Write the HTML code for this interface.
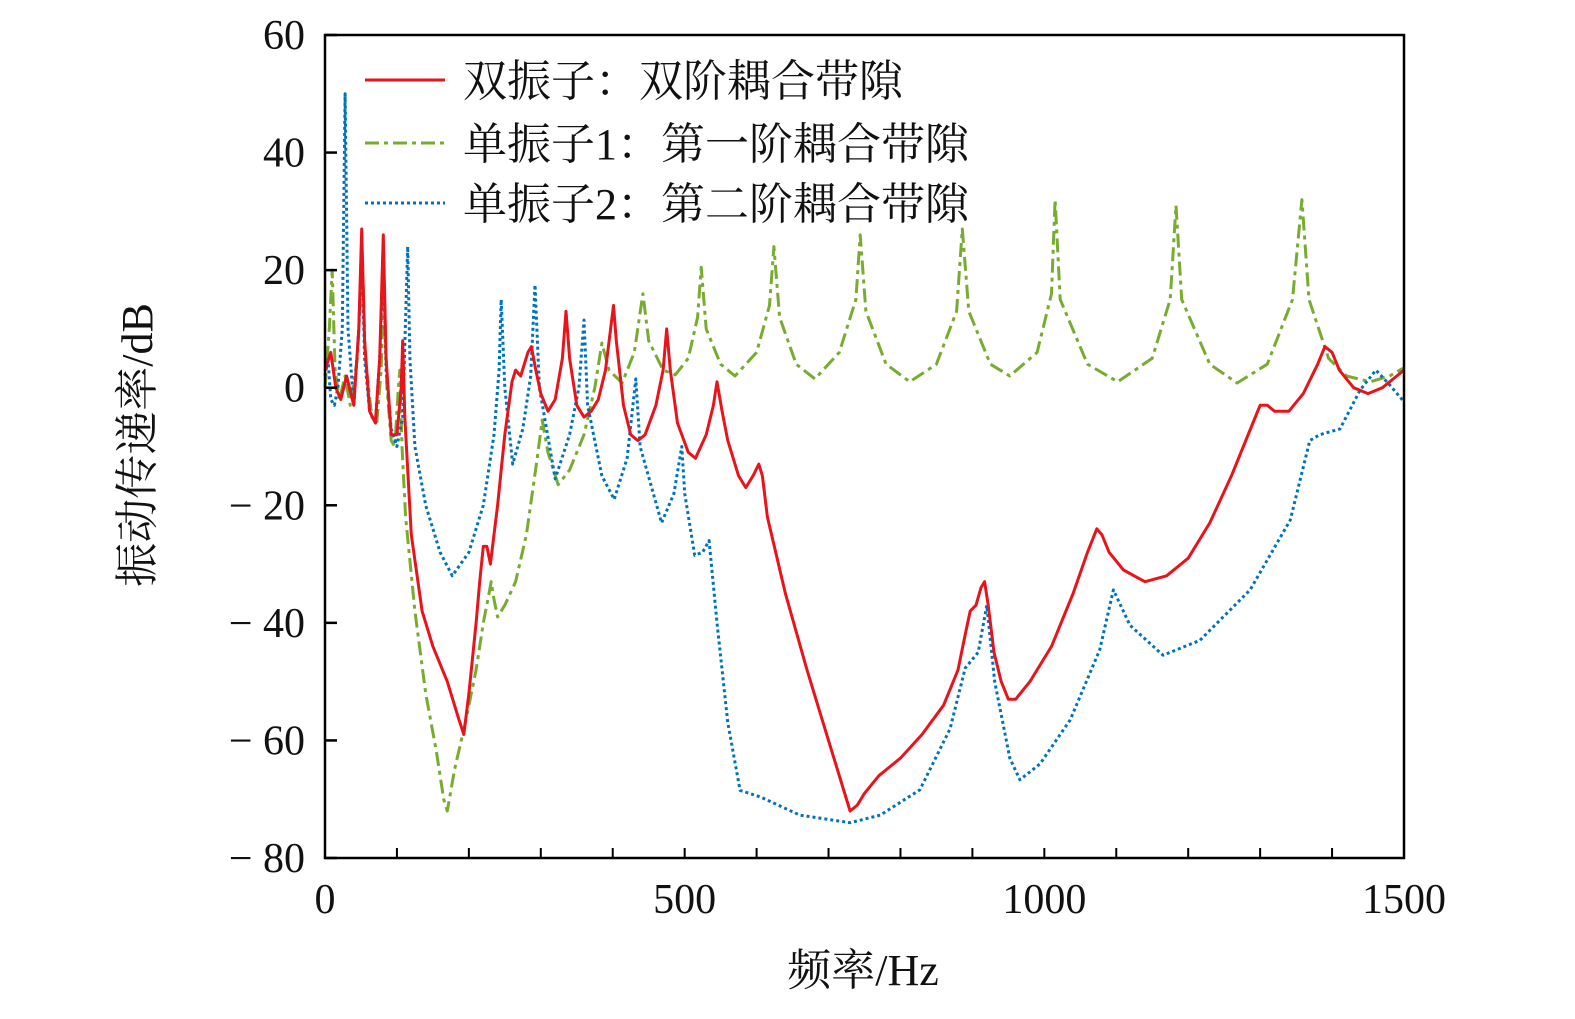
<!DOCTYPE html>
<html><head><meta charset="utf-8"><style>
body{margin:0;background:#fff;}
svg text{font-family:"Liberation Serif","Noto Serif CJK SC",serif;fill:#111;}
</style></head><body>
<svg id="chart" width="1575" height="1014" xmlns="http://www.w3.org/2000/svg"></svg>
<script>
const xTicks=[0,500,1000,1500];
const yTicks=[60,40,20,0,-20,-40,-60,-80];
const redHz=[0,8,15,22,30,40,47,51,55,62,70,76,81,85,92,100,106,108,111,120,135,150,170,185,193,200,210,215,220,225,230,240,250,260,265,272,282,287,293,300,310,320,330,335,340,350,360,370,380,390,397,401,405,415,425,435,445,460,470,475,480,490,505,515,530,540,545,552,560,575,585,595,603,608,615,640,670,700,720,730,740,750,770,800,830,860,880,890,897,905,912,917,922,930,940,950,960,980,1010,1040,1060,1073,1080,1090,1110,1140,1170,1200,1230,1260,1290,1300,1310,1320,1340,1360,1380,1390,1400,1410,1430,1450,1470,1490,1500];
const redDb=[3,6,0,-2,2,-3,10,27,8,-4,-6,5,26,5,-8,-8,0,8,-5,-25,-38,-44,-50,-56,-59,-52,-40,-33,-27,-27,-30,-20,-8,1,3,2,6,7,3,-1,-4,-2,5,13,5,-3,-5,-4,-2,3,10,14,8,-3,-8,-9,-8,-3,3,10,3,-6,-11,-12,-8,-3,1,-4,-9,-15,-17,-15,-13,-15,-22,-35,-48,-60,-68,-72,-71,-69,-66,-63,-59,-54,-48,-42,-38,-37,-34,-33,-37,-45,-50,-53,-53,-50,-44,-35,-28,-24,-25,-28,-31,-33,-32,-29,-23,-15,-6,-3,-3,-4,-4,-1,4,7,6,3,0,-1,0,2,3];
const greenHz=[0,6,10,14,20,28,35,45,52,56,65,72,78,82,86,92,97,102,104,107,112,125,140,155,165,170,180,195,210,220,228,231,235,240,250,265,280,295,302,310,324,340,360,375,385,395,413,430,442,450,470,487,505,518,523,530,550,570,600,618,624,632,655,681,715,738,744,752,780,813,850,878,886,895,925,952,990,1010,1015,1022,1060,1102,1150,1175,1183,1191,1230,1268,1310,1345,1358,1368,1395,1420,1453,1480,1500];
const greenDb=[0,10,20,3,-2,2,-3,5,22,5,-5,-6,3,17,0,-9,-10,0,3,-10,-22,-38,-52,-62,-70,-72,-65,-57,-48,-40,-35,-33,-36,-39,-37,-33,-25,-12,-5.5,-11,-16.5,-14,-8,0,7.6,3,0.8,6,16,8,3,2.2,5,12,20.5,10,4,2,6,14,24,12,4,1.5,6,15,26,13,4,1,4,13,27,13,4,2,6,16,32,15,4,1,5,15,31,15,4,0.8,4,15,32,15,5,2,1,2,3.4];
const blueHz=[0,4,8,13,18,24,28,32,40,47,51,55,62,70,76,81,85,92,100,108,115,118,125,140,160,177,200,220,235,242,245,250,261,275,286,292,298,320,340,353,360,365,385,402,420,432,438,468,485,496,500,514,525,534,545,560,577,605,660,730,772,827,869,890,908,920,931,952,966,994,1036,1077,1096,1119,1165,1216,1286,1342,1369,1383,1411,1439,1461,1480,1500];
const blueDb=[2,5,-2,-3,0,10,50,10,-3,10,24,5,-4,-6,5,22,3,-7,-10,-5,24,5,-10,-20,-28,-32,-28,-20,-8,3,15,0,-13,-7,2,17.5,0,-15.5,-8,0,11.5,-3,-15,-19,-12,1.5,-10,-23,-18,-10,-18,-28.5,-28,-26,-40,-57,-68.5,-69.6,-72.7,-74,-72.7,-68.4,-58,-47.7,-45,-37,-50,-63,-66.7,-64,-56.5,-44.6,-34.4,-40.4,-45.5,-43,-34.4,-22.5,-9,-8,-7,-0.4,3,0.5,-2.4];
const X0=325,X1=1404,Y0=858,Y1=35;
const sx=v=>X0+(v/1500)*(X1-X0);
const sy=v=>Y0-((v+80)/140)*(Y0-Y1);
const svg=document.getElementById('chart');
const NS='http://www.w3.org/2000/svg';
function mk(t,a){const e=document.createElementNS(NS,t);for(const k in a)e.setAttribute(k,a[k]);svg.appendChild(e);return e;}
function line(hz,db,color,dash,name){
  const d=hz.map((h,i)=>(i?'L':'M')+sx(h).toFixed(1)+' '+sy(db[i]).toFixed(1)).join(' ');
  const p=mk('path',{d:d,fill:'none',stroke:color,'stroke-width':3,'stroke-dasharray':dash,'stroke-linejoin':'round'});
  
  
}
line(greenHz,greenDb,'#77ac30','14,5,4,5','series-single-oscillator-1');
line(blueHz,blueDb,'#0072bd','3,3','series-single-oscillator-2');
line(redHz,redDb,'#e8141c','none','series-double-oscillator');
const frame=mk('rect',{x:X0,y:Y1,width:X1-X0,height:Y0-Y1,fill:'none',stroke:'#000','stroke-width':2.5});


yTicks.forEach(v=>{
  mk('line',{x1:X0,x2:X0+12,y1:sy(v),y2:sy(v),stroke:'#000','stroke-width':2.5});
  const t=mk('text',{x:305,y:sy(v)+14,'text-anchor':'end','font-size':42});
  t.textContent=v<0?'− '+Math.abs(v):String(v);
  
  
});
for(let h=100;h<1500;h+=100){mk('line',{x1:sx(h),x2:sx(h),y1:Y0,y2:Y0-10,stroke:'#000','stroke-width':2});}
xTicks.forEach(v=>{
  const t=mk('text',{x:sx(v),y:913,'text-anchor':'middle','font-size':42});
  t.textContent=String(v);
  
  
});
const xt=mk('text',{x:863,y:985,'text-anchor':'middle','font-size':44});
xt.textContent='频率/Hz';


const yt=mk('text',{x:0,y:0,'text-anchor':'middle','font-size':44,transform:'translate(152,445) rotate(-90)'});
yt.textContent='振动传递率/dB';


const leg=[['双振子：双阶耦合带隙','#e8141c','none',80],['单振子1：第一阶耦合带隙','#77ac30','14,5,4,5',143],['单振子2：第二阶耦合带隙','#0072bd','3,3',203]];
leg.forEach(l=>{
  const ln=mk('line',{x1:365,x2:445,y1:l[3],y2:l[3],stroke:l[1],'stroke-width':3,'stroke-dasharray':l[2]});
  
  
  const t=mk('text',{x:463,y:l[3]+16,'font-size':44});
  t.textContent=l[0];
  
  
});
</script>
</body></html>
